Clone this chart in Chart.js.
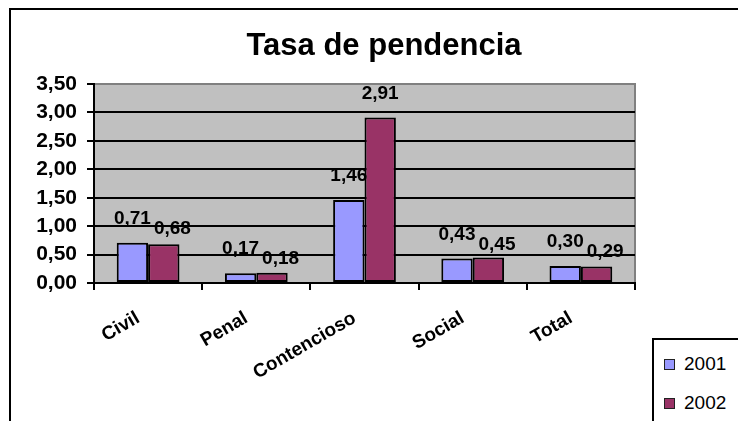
<!DOCTYPE html>
<html>
<head>
<meta charset="utf-8">
<title>Tasa de pendencia</title>
<script src="https://cdn.jsdelivr.net/npm/chart.js@4.4.1/dist/chart.umd.min.js"></script>
<style>
body { margin: 0; background: #fff; overflow: hidden; }
#zone { position: relative; width: 738px; height: 421px; overflow: hidden; }
#cadre { position: absolute; left: 9px; top: 8px; width: 800px; height: 500px; border: 2px solid #000; }
#graph { position: absolute; left: 0; top: 0; }
#legende { position: absolute; left: 652px; top: 338px; width: 140px; height: 140px; border: 2px solid #000; background: #fff;
           font-family: 'Liberation Sans', Arial, sans-serif; font-size: 19px; color: #000; }
.item { position: absolute; left: 10px; height: 20px; display: flex; align-items: center; }
.carre { width: 9px; height: 9px; border: 1px solid #222; margin-right: 9px; }
</style>
</head>
<body>
<div id="zone">
    <div id="cadre"></div>
    <canvas id="graph" width="760" height="421"></canvas>
    <div id="legende"></div>
</div>
<script>
var categories = ["Civil", "Penal", "Contencioso", "Social", "Total"];
var annees = ["2001", "2002"];
var valeurs2001 = [0.71, 0.17, 1.46, 0.43, 0.30];
var valeurs2002 = [0.68, 0.18, 2.91, 0.45, 0.29];
var graduations = [0, 0.5, 1, 1.5, 2, 2.5, 3, 3.5];
var couleurs = ["#9999FF", "#993366"];

var police = "'Liberation Sans', Arial, sans-serif";

function formater(v)
{
    return v.toFixed(2).replace(".", ",");
}

// fond gris de la zone de tracé
var fondZone = {
    id: "fondZone",
    beforeDraw: function(chart) {
        var a = chart.chartArea;
        var ctx = chart.ctx;
        ctx.save();
        ctx.fillStyle = "#C0C0C0";
        ctx.fillRect(a.left, a.top, a.right - a.left, a.bottom - a.top);
        ctx.strokeStyle = "#808080";
        ctx.lineWidth = 2;
        ctx.strokeRect(a.left, a.top, a.right - a.left, a.bottom - a.top);
        ctx.restore();
    }
};

// valeurs au-dessus des barres
var etiquettes = {
    id: "etiquettes",
    afterDatasetsDraw: function(chart) {
        var ctx = chart.ctx;
        ctx.save();
        ctx.font = "bold 19px " + police;
        ctx.fillStyle = "#000";
        ctx.textAlign = "left";
        ctx.textBaseline = "alphabetic";
        var precedentes = [];
        chart.data.datasets.forEach(function(ds, d) {
            var meta = chart.getDatasetMeta(d);
            meta.data.forEach(function(barre, i) {
                var texte = formater(ds.data[i]);
                var largeur = ctx.measureText(texte).width;
                var x = barre.x - largeur / 2;
                var y = barre.y - 19;
                var p = precedentes[i];
                if (p && x < p.x + p.l && Math.abs(y - p.y) < 14) {
                    x = p.x + p.l + 3;
                    y = Math.max(y, p.y + 10);
                }
                ctx.fillText(texte, x, y);
                precedentes[i] = { x: x, y: y, l: largeur };
            });
        });
        ctx.restore();
    }
};

var chartdata = {
    labels: categories,
    datasets: [
        {
            label: annees[0],
            data: valeurs2001,
            backgroundColor: couleurs[0],
            borderColor: "#000",
            borderWidth: 2,
            borderSkipped: false
        },
        {
            label: annees[1],
            data: valeurs2002,
            backgroundColor: couleurs[1],
            borderColor: "#000",
            borderWidth: 2,
            borderSkipped: false
        }
    ]
};

var myGraph = new Chart(document.getElementById("graph"), {
    type: "bar",
    data: chartdata,
    plugins: [fondZone, etiquettes],
    options: {
        responsive: false,
        animation: false,
        datasets: {
            bar: { categoryPercentage: 0.58, barPercentage: 1.0 }
        },
        layout: {
            padding: { left: 20, right: 12, top: 10, bottom: 10 }
        },
        plugins: {
            legend: { display: false },
            tooltip: { enabled: false },
            title: {
                display: true,
                text: "Tasa de pendencia",
                color: "#000",
                font: { family: police, size: 31, weight: "bold" },
                padding: { top: 17.7, bottom: 19.1 }
            }
        },
        scales: {
            x: {
                grid: {
                    offset: true,
                    drawOnChartArea: false,
                    color: "#000",
                    lineWidth: 2,
                    tickLength: 7
                },
                border: { color: "#000", width: 2 },
                ticks: {
                    color: "#000",
                    font: { family: police, size: 19, weight: "bold" },
                    minRotation: 30,
                    maxRotation: 30,
                    autoSkip: false,
                    padding: 17,
                    labelOffset: -10
                },
                afterFit: function(s) { s.height = 128; }
            },
            y: {
                min: 0,
                max: 3.5,
                afterBuildTicks: function(s) {
                    s.ticks = graduations.map(function(v) { return { value: v }; });
                },
                grid: {
                    color: function(c) {
                        return (c.tick && c.tick.value === 3.5) ? "#808080" : "#000";
                    },
                    tickColor: "#000",
                    lineWidth: 2,
                    tickLength: 7
                },
                border: { color: "#000", width: 2 },
                ticks: {
                    color: "#000",
                    font: { family: police, size: 21, weight: "bold" },
                    padding: 10,
                    callback: function(v) { return formater(v); }
                },
                afterFit: function(s) { s.width = 74; }
            },
            y2: {
                type: "linear",
                position: "right",
                grid: { display: false },
                border: { display: false },
                ticks: { display: false },
                afterFit: function(s) { s.width = 113; }
            }
        }
    }
});

// légende construite à partir des séries
var legende = document.getElementById("legende");
myGraph.data.datasets.forEach(function(ds, i) {
    var item = document.createElement("div");
    item.className = "item";
    item.style.top = (14 + i * 39) + "px";
    var carre = document.createElement("span");
    carre.className = "carre";
    carre.style.background = ds.backgroundColor;
    var texte = document.createElement("span");
    texte.textContent = ds.label;
    item.appendChild(carre);
    item.appendChild(texte);
    legende.appendChild(item);
});
</script>
</body>
</html>
